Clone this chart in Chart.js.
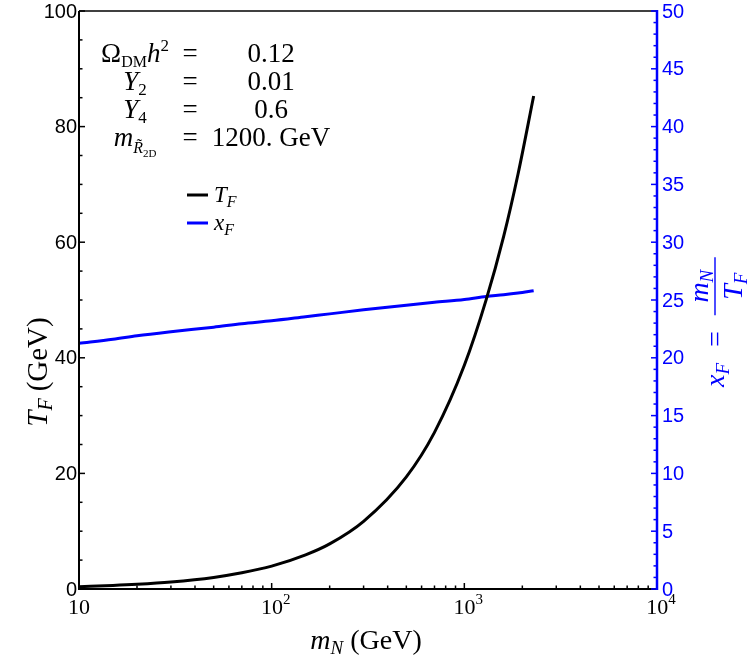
<!DOCTYPE html>
<html>
<head>
<meta charset="utf-8">
<script src="https://cdn.jsdelivr.net/npm/chart.js@4.4.1/dist/chart.umd.min.js"></script>
<style>
  html, body { margin: 0; padding: 0; background: #fff; }
  #wrap { width: 747px; height: 664px; position: relative; }
</style>
</head>
<body>
<div id="wrap"><canvas id="chart"></canvas></div>
<script>
// m_N (GeV) sample points
const massGeV = [10, 15, 20, 30, 50, 70, 100, 150, 200, 300, 500, 700, 1000, 1300, 1600, 1900, 2290];
// freeze-out temperature T_F (GeV), left axis
const tempF = [0.41, 0.61, 0.81, 1.21, 2.0, 2.8, 3.95, 5.9, 7.8, 11.7, 19.4, 27.1, 38.7, 50.1, 61.0, 71.8, 85.3];
// x_F = m_N / T_F, right axis
const xF = [21.25, 21.6, 21.9, 22.25, 22.65, 22.95, 23.2, 23.55, 23.8, 24.15, 24.55, 24.8, 25.05, 25.3, 25.45, 25.6, 25.8];

const leftTicks = [0, 20, 40, 60, 80, 100];
const rightTicks = [0, 5, 10, 15, 20, 25, 30, 35, 40, 45, 50];
const xDecades = [10, 100, 1000, 10000];
const xDecadeExp = ['', '2', '3', '4'];

const BLUE = '#0000ff';
const SERIF = '"Liberation Serif", "DejaVu Serif", serif';
const SANS = '"Liberation Sans", Arial, sans-serif';

// draw a run of text pieces (sub/superscripts etc.)
function drawRich(ctx, runs, x, y, align) {
    let total = 0;
    runs.forEach(r => { ctx.font = r.font; r.w = ctx.measureText(r.t).width; total += r.w + (r.gap || 0); });
    let cx = align === 'center' ? x - total / 2 : align === 'right' ? x - total : x;
    runs.forEach(r => {
        ctx.font = r.font;
        ctx.fillText(r.t, cx, y + (r.dy || 0));
        cx += r.w + (r.gap || 0);
    });
    return total;
}

const it = s => `italic ${s}px ${SERIF}`;
const rm = s => `${s}px ${SERIF}`;

const axesPlugin = {
    id: 'axesPlugin',
    afterDraw(chart) {
        const { ctx, chartArea: a, scales } = chart;
        const xs = scales.x, yl = scales.y, yr = scales.y2;
        ctx.save();
        ctx.textBaseline = 'alphabetic';

        // frame
        ctx.lineCap = 'butt';
        ctx.strokeStyle = '#000';
        ctx.lineWidth = 1.5;
        ctx.beginPath(); ctx.moveTo(a.left, a.top); ctx.lineTo(a.right, a.top); ctx.stroke();
        ctx.lineWidth = 2;
        ctx.beginPath(); ctx.moveTo(a.left, a.top); ctx.lineTo(a.left, a.bottom + 1); ctx.stroke();
        ctx.beginPath(); ctx.moveTo(a.left - 1, a.bottom); ctx.lineTo(a.right, a.bottom); ctx.stroke();

        // left ticks
        ctx.lineWidth = 1.5;
        for (let v = 0; v <= 100; v += 5) {
            const py = yl.getPixelForValue(v);
            const len = v % 20 === 0 ? 6 : 3.5;
            ctx.beginPath(); ctx.moveTo(a.left, py); ctx.lineTo(a.left + len, py); ctx.stroke();
        }
        ctx.fillStyle = '#000';
        ctx.font = `20px ${SANS}`;
        ctx.textAlign = 'right';
        ctx.textBaseline = 'middle';
        leftTicks.forEach(v => ctx.fillText(String(v), a.left - 2, yl.getPixelForValue(v) + 1));

        // bottom ticks
        ctx.textBaseline = 'alphabetic';
        ctx.textAlign = 'left';
        for (let d = 10; d < 10000; d *= 10) {
            for (let k = 1; k < 10; k++) {
                const px = xs.getPixelForValue(d * k);
                const len = k === 1 ? 6 : 3.5;
                ctx.beginPath(); ctx.moveTo(px, a.bottom); ctx.lineTo(px, a.bottom - len); ctx.stroke();
            }
        }
        xDecades.forEach((d, i) => {
            const px = xs.getPixelForValue(d);
            const runs = [{ t: '10', font: rm(22) }];
            if (xDecadeExp[i]) runs.push({ t: xDecadeExp[i], font: rm(15), dy: -10 });
            drawRich(ctx, runs, px + (xDecadeExp[i] ? 4 : 0), a.bottom + 25, 'center');
        });

        // right axis (blue)
        ctx.strokeStyle = BLUE;
        ctx.fillStyle = BLUE;
        ctx.lineWidth = 2.5;
        ctx.beginPath(); ctx.moveTo(a.right, a.top - 1); ctx.lineTo(a.right, a.bottom + 1); ctx.stroke();
        ctx.lineWidth = 1.5;
        for (let v = 0; v <= 50; v += 1) {
            const py = yr.getPixelForValue(v);
            const len = v % 5 === 0 ? 6 : 3.5;
            ctx.beginPath(); ctx.moveTo(a.right, py); ctx.lineTo(a.right - len, py); ctx.stroke();
        }
        ctx.font = `20px ${SANS}`;
        ctx.textAlign = 'left';
        ctx.textBaseline = 'middle';
        rightTicks.forEach(v => ctx.fillText(String(v), a.right + 5, yr.getPixelForValue(v) + 1));

        // axis titles
        ctx.textBaseline = 'alphabetic';
        ctx.fillStyle = '#000';
        drawRich(ctx, [
            { t: 'm', font: it(28) },
            { t: 'N', font: it(19), dy: 5, gap: 7 },
            { t: '(GeV)', font: rm(28) }
        ], 366, 649, 'center');

        ctx.save();
        ctx.translate(47, 372);
        ctx.rotate(-Math.PI / 2);
        drawRich(ctx, [
            { t: 'T', font: it(29) },
            { t: 'F', font: it(20), dy: 5, gap: 7 },
            { t: '(GeV)', font: rm(29) }
        ], 0, 0, 'center');
        ctx.restore();

        // right title: x_F = m_N / T_F
        ctx.save();
        ctx.fillStyle = BLUE;
        ctx.strokeStyle = BLUE;
        ctx.translate(724, 305);
        ctx.rotate(-Math.PI / 2);
        const lhsW = drawRich(ctx, [
            { t: 'x', font: it(28) },
            { t: 'F', font: it(19), dy: 5, gap: 16 },
            { t: '=', font: rm(28), gap: 16 }
        ], -82, 0, 'left');
        const fx = -82 + lhsW;
        ctx.lineWidth = 1.4;
        ctx.beginPath(); ctx.moveTo(fx, -9); ctx.lineTo(fx + 58, -9); ctx.stroke();
        drawRich(ctx, [{ t: 'm', font: it(28) }, { t: 'N', font: it(19), dy: 5 }], fx + 29, -16, 'center');
        drawRich(ctx, [{ t: 'T', font: it(28) }, { t: 'F', font: it(19), dy: 5 }], fx + 29, 18, 'center');
        ctx.restore();

        // parameter block
        ctx.fillStyle = '#000';
        const rows = [
            { lhs: [{ t: 'Ω', font: rm(27) }, { t: 'DM', font: rm(16), dy: 5 }, { t: 'h', font: it(27) }, { t: '2', font: rm(17), dy: -11 }], rhs: '0.12', y: 62 },
            { lhs: [{ t: 'Y', font: it(27) }, { t: '2', font: rm(17), dy: 5 }], rhs: '0.01', y: 90 },
            { lhs: [{ t: 'Y', font: it(27) }, { t: '4', font: rm(17), dy: 5 }], rhs: '0.6', y: 118 },
            { lhs: [{ t: 'm', font: it(27) }, { t: 'R\u0303', font: it(16), dy: 7 }, { t: '2D', font: rm(11), dy: 11 }], rhs: '1200. GeV', y: 146 }
        ];
        rows.forEach(r => {
            drawRich(ctx, r.lhs, 135, r.y, 'center');
            drawRich(ctx, [{ t: '=', font: rm(27) }], 190, r.y, 'center');
            drawRich(ctx, [{ t: r.rhs, font: rm(27) }], 271, r.y, 'center');
        });

        // legend
        const leg = [{ c: '#000', t: 'T', y: 195 }, { c: BLUE, t: 'x', y: 223 }];
        leg.forEach(l => {
            ctx.strokeStyle = l.c;
            ctx.lineWidth = 3;
            ctx.beginPath(); ctx.moveTo(187, l.y); ctx.lineTo(208, l.y); ctx.stroke();
            ctx.fillStyle = '#000';
            drawRich(ctx, [{ t: l.t, font: it(23) }, { t: 'F', font: it(16), dy: 5 }], 214, l.y + 7, 'left');
        });
        ctx.restore();
    }
};

const tPoints = massGeV.map((m, i) => ({ x: m, y: tempF[i] }));
const xPoints = massGeV.map((m, i) => ({ x: m, y: xF[i] }));

new Chart(document.getElementById('chart'), {
    type: 'line',
    data: {
        datasets: [
            { label: 'T_F', data: tPoints, yAxisID: 'y', borderColor: '#000', borderWidth: 3, pointRadius: 0, cubicInterpolationMode: 'monotone', fill: false },
            { label: 'x_F', data: xPoints, yAxisID: 'y2', borderColor: BLUE, borderWidth: 3, pointRadius: 0, cubicInterpolationMode: 'monotone', fill: false }
        ]
    },
    options: {
        responsive: true,
        maintainAspectRatio: false,
        animation: false,
        layout: { padding: { left: 79, right: 90, top: 11, bottom: 75 } },
        plugins: { legend: { display: false }, tooltip: { enabled: false } },
        scales: {
            x: { type: 'logarithmic', min: 10, max: 10000, display: false },
            y: { type: 'linear', position: 'left', min: 0, max: 100, display: false },
            y2: { type: 'linear', position: 'right', min: 0, max: 50, display: false }
        }
    },
    plugins: [axesPlugin]
});
</script>
</body>
</html>
